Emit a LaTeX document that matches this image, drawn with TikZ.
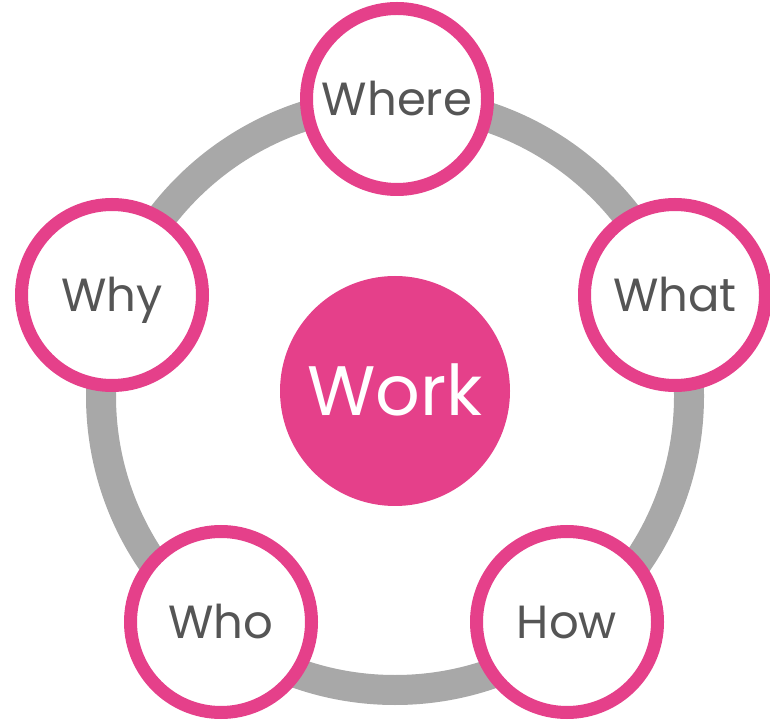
\documentclass[tikz,border=0pt]{standalone}
\usepackage{fontspec}
\setmainfont{Poppins}
\definecolor{ringgray}{HTML}{A8A8A8}
\definecolor{accentpink}{HTML}{E5408A}
\definecolor{labelgray}{HTML}{555555}
\begin{document}
\begin{tikzpicture}[x=1pt,y=1pt,
  topic/.style={circle, draw=accentpink, line width=13pt, fill=white,
    minimum size=181pt, inner sep=0pt, text=labelgray,
    font=\fontsize{46.5}{50}\selectfont, text height=32.5pt, text depth=0pt},
  hub/.style={circle, fill=accentpink, minimum size=230pt, inner sep=0pt,
    text=white, font=\fontsize{70}{74}\selectfont, text height=49pt, text depth=0pt}]
\useasboundingbox (0,0) rectangle (770,720);
% ring linking the five topics
\draw[ringgray, line width=30pt] (395,324) circle[radius=294];
% central hub
\node[hub] (work) at (395,329) {Work};
% topics around the ring
\node[topic] (where) at (397,621) {Where};
\node[topic] (what)  at (675,425) {What};
\node[topic] (how)   at (567,98)  {How};
\node[topic] (who)   at (221,98)  {Who};
\node[topic] (why)   at (112,425) {Why};
\end{tikzpicture}
\end{document}
